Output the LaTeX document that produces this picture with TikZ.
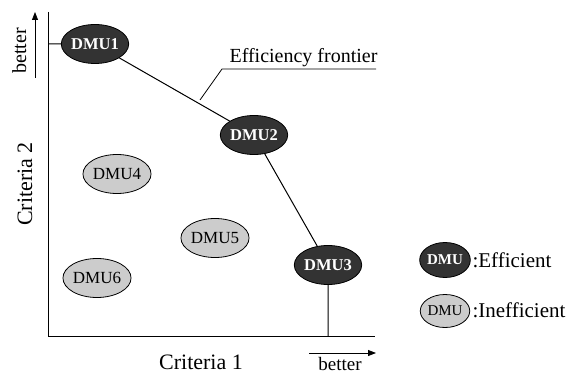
\documentclass[tikz,border=0pt]{standalone}
\usepackage{fontspec}
\setmainfont{Liberation Serif}
\usetikzlibrary{shapes.geometric,arrows.meta}
\definecolor{effill}{HTML}{333333}
\definecolor{inefill}{HTML}{CCCCCC}
\begin{document}
\begin{tikzpicture}[x=1pt,y=-1pt,
  every node/.style={font=\fontsize{20}{22}\selectfont},
  dmu/.style={ellipse,draw=black,line width=0.8pt,inner sep=0pt,
    minimum width=60pt,minimum height=39pt},
  eff/.style={dmu,fill=effill,text=white,font=\fontsize{16.5}{18}\selectfont\bfseries},
  ineff/.style={dmu,fill=inefill,text=black,font=\fontsize{17}{19}\selectfont},
  line/.style={line width=1pt,black},
  arr/.style={line width=0.8pt,-{Triangle[length=8pt,width=6pt]}}]
\useasboundingbox (0,0) rectangle (573,374);

% axes
\coordinate (ytop) at (48,12);
\coordinate (orig) at (48,336);
\coordinate (xend) at (375,336);
\draw[line] (ytop) -- (orig) -- (xend);

% axis labels and "better" arrows
\node[rotate=90,anchor=base,font=\fontsize{22}{24}\selectfont] (c2) at (32,184) {Criteria 2};
\node[anchor=base,font=\fontsize{22}{24}\selectfont] (c1) at (201,369) {Criteria 1};
\coordinate (ya0) at (35,78);
\coordinate (ya1) at (35,12);
\draw[arr] (ya0) -- (ya1);
\node[rotate=90,anchor=base] (by) at (26,51) {better};
\coordinate (xa0) at (309,353);
\coordinate (xa1) at (376,353);
\draw[arr] (xa0) -- (xa1);
\node[anchor=base,font=\fontsize{19}{21}\selectfont] (bx) at (340,370.5) {better};

% decision making units
\node[eff] (d1) at (95,44) {DMU1};
\node[eff] (d2) at (254,135) {DMU2};
\node[eff] (d3) at (328,265) {DMU3};
\node[ineff] (d4) at (117,174) {DMU4};
\node[ineff] (d5) at (215,238) {DMU5};
\node[ineff] (d6) at (97,278) {DMU6};

% frontier
\coordinate (f0) at (48,44);
\coordinate (f4) at (328,336);
\draw[line] (f0) -- (d1) -- (d2) -- (d3) -- (f4);

% frontier label with leader
\node[anchor=base west] (ef) at (226,63) {Efficiency frontier};
\coordinate (u0) at (222,69);
\coordinate (u1) at (376,69);
\coordinate (lp) at (200,100);
\draw[line width=0.8pt] (lp) -- (u0) -- (u1);

% legend
\node[eff,font=\fontsize{15}{17}\selectfont\bfseries,minimum width=49pt,minimum height=35pt] (le) at (445,260) {DMU};
\node[anchor=base west,font=\fontsize{21}{23}\selectfont] (lt1) at (469,267) {:Efficient};
\node[ineff,font=\fontsize{15}{17}\selectfont,minimum width=49pt,minimum height=33pt] (li) at (445,311) {DMU};
\node[anchor=base west,font=\fontsize{21}{23}\selectfont] (lt2) at (469,317) {:Inefficient};
\end{tikzpicture}
\end{document}
